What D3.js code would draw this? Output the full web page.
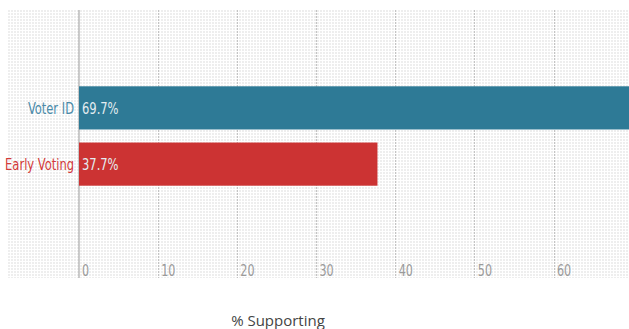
<!DOCTYPE html>
<html><head><meta charset="utf-8">
<script src="https://cdn.jsdelivr.net/npm/d3@7"></script>
<style>body{margin:0;background:#fff;overflow:hidden}</style>
</head><body><svg id="c" width="629" height="329"></svg>
<script>
const categories = ["Voter ID", "Early Voting"];
const values = [69.7, 37.7];
const colors = ["#2e7a96", "#cc3333"];
const labelColors = ["#4a8aa8", "#d23a3a"];
const tickValues = [0, 10, 20, 30, 40, 50, 60];
const axisTitle = "% Supporting";

const svg = d3.select("#c");
const plot = {left: 8, top: 10, right: 629, bottom: 278};
const x = d3.scaleLinear().domain([0, 60]).range([79, 554]);
const y = d3.scaleBand().domain(categories).range([10, 262]).paddingInner(0.232).paddingOuter(1.357);
const SX = 0.8;

const defs = svg.append("defs");
const pat = defs.append("pattern").attr("id", "dots").attr("width", 3).attr("height", 3)
  .attr("patternUnits", "userSpaceOnUse").attr("x", plot.left).attr("y", plot.top);
pat.append("rect").attr("width", 2).attr("height", 2).attr("fill", "#eeeeee");

svg.append("rect").attr("x", plot.left).attr("y", plot.top)
  .attr("width", plot.right - plot.left).attr("height", plot.bottom - plot.top)
  .attr("fill", "url(#dots)");

const font = "'DejaVu Sans Condensed', 'DejaVu Sans', sans-serif";

// gridlines
svg.append("g").selectAll("line").data(tickValues.filter(d => d > 0)).join("line")
  .attr("x1", d => x(d)).attr("x2", d => x(d)).attr("y1", plot.top).attr("y2", plot.bottom)
  .attr("stroke", "#c4c4c4").attr("stroke-dasharray", "2,1").attr("stroke-width", 1)
  .attr("shape-rendering", "crispEdges");
svg.append("line").attr("x1", x(0)).attr("x2", x(0)).attr("y1", plot.top).attr("y2", plot.bottom)
  .attr("stroke", "#aaa").attr("stroke-width", 1.2);

// tick labels
svg.append("g").selectAll("text").data(tickValues).join("text")
  .attr("transform", d => `translate(${x(d) + 3},276) scale(${SX},1)`)
  .attr("font-family", font).attr("font-size", 15.5).attr("fill", "#9a9a9a")
  .text(d => d);

// bars
svg.append("g").selectAll("rect").data(values).join("rect")
  .attr("x", x(0)).attr("y", (d, i) => y(categories[i]))
  .attr("width", d => x(d) - x(0)).attr("height", y.bandwidth())
  .attr("fill", (d, i) => colors[i]);

// value labels
svg.append("g").selectAll("text").data(values).join("text")
  .attr("transform", (d, i) => `translate(${x(0) + 3},${y(categories[i]) + y.bandwidth() / 2}) scale(${SX},1)`)
  .attr("dy", "0.36em").attr("font-family", font).attr("font-size", 16)
  .attr("fill", "#e4ecf0").text(d => d.toFixed(1) + "%");

// category labels
svg.append("g").selectAll("text").data(categories).join("text")
  .attr("transform", d => `translate(${x(0) - 5},${y(d) + y.bandwidth() / 2}) scale(${SX},1)`)
  .attr("dy", "0.36em").attr("text-anchor", "end").attr("font-family", font).attr("font-size", 16)
  .attr("fill", (d, i) => labelColors[i]).text(d => d);

// axis title
svg.append("text").attr("x", 278).attr("y", 326).attr("text-anchor", "middle")
  .attr("font-family", "'Open Sans', sans-serif").attr("font-size", 15).attr("fill", "#444")
  .text(axisTitle);
</script></body></html>
